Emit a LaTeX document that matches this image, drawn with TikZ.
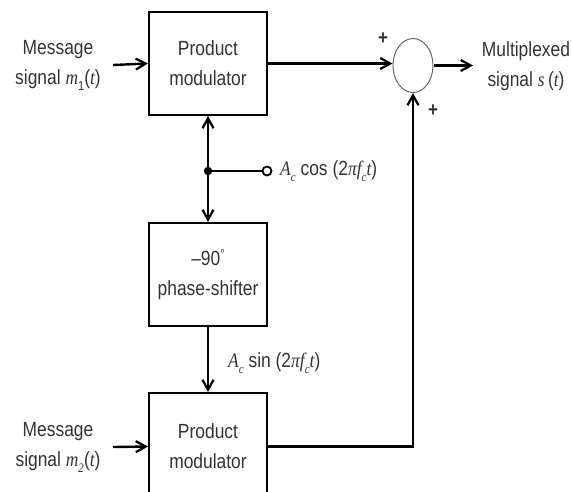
\documentclass[tikz,border=0pt]{standalone}
\usepackage{fontspec}
\setmainfont{Liberation Sans}[FakeStretch=0.85]
\newfontfamily\sr{Liberation Serif}[FakeStretch=0.85]
\usetikzlibrary{arrows.meta,shapes.geometric}
\newcommand{\vi}[1]{{\sr\itshape #1}}
\newcommand{\sbs}[1]{\raisebox{-0.55ex}{\fontsize{13}{13}\selectfont #1}}
\begin{document}
\begin{tikzpicture}[x=1pt,y=-1pt,
  blk/.style={draw,line width=2pt,minimum width=118pt,minimum height=103pt,inner sep=0pt,align=center},
  lbl/.style={align=center,inner sep=0pt},
  pm/.style={inner sep=0pt},
  arr/.style={line width=2.4pt,-{Straight Barb[length=10pt,width=11pt,line width=2.2pt]}},
  ln/.style={line width=2.4pt},
  every node/.style={font=\fontsize{20.5}{30}\selectfont, text=black!80}]
\useasboundingbox (0,0) rectangle (572,491);
\clip (0,0) rectangle (572,491);
\node[blk] (box1) at (208,63.5) {Product\\modulator};
\node[blk] (ps) at (208,274.5) {--90\raisebox{0.6ex}{\fontsize{13}{13}\selectfont °}\\phase-shifter};
\node[blk,minimum height=107pt,text depth=0pt] (box2) at (208,446.5) {Product\\modulator};
\node[draw,ellipse,line width=1pt,draw=black!60,minimum width=40pt,minimum height=54pt,inner sep=0pt] (sum) at (413,65.5) {};
\node[lbl] (m1) at (58,65) {Message\\signal \vi{m}\sbs{1}(\vi{t})};
\node[lbl] (m2) at (58,447) {Message\\signal \vi{m}\sbs{\vi{2}}(\vi{t})};
\node[lbl] (outl) at (526,66) {Multiplexed\\signal \vi{s}\,(\vi{t})};
\node[lbl,anchor=west] (cosl) at (280,171) {\vi{A}\sbs{\vi{c}} cos (2\vi{π}\vi{f}\sbs{\vi{c}}\vi{t})};
\node[lbl,anchor=west] (sinl) at (228,363) {\vi{A}\sbs{\vi{c}} sin (2\vi{π}\vi{f}\sbs{\vi{c}}\vi{t})};
\node[pm] (p1) at (383,39) {\fontsize{20}{20}\selectfont\bfseries +};
\node[pm] (p2) at (433,111) {\fontsize{20}{20}\selectfont\bfseries +};
\coordinate (in1) at (113,65);
\coordinate (in2) at (113,447);
\coordinate (out) at (473,65.5);
\coordinate (j) at (208,171);
\node[draw,circle,line width=1.8pt,minimum size=9pt,inner sep=0pt] (osc) at (267,171) {};
\draw[arr] (in1) -- (box1.west);
\draw[arr] (in2) -- (box2.west);
\draw[arr] (box1.east) -- (box1.east -| sum.west);
\draw[arr] (sum.east) -- (out);
\draw[arr] (j) -- (box1.south);
\draw[arr] (j) -- (ps.north);
\draw[ln] (j) -- (osc.west);
\fill (j) circle (4.2pt);
\draw[arr] (ps.south) -- (box2.north);
\draw[arr] (box2.east) -| (sum.south);
\end{tikzpicture}
\end{document}
